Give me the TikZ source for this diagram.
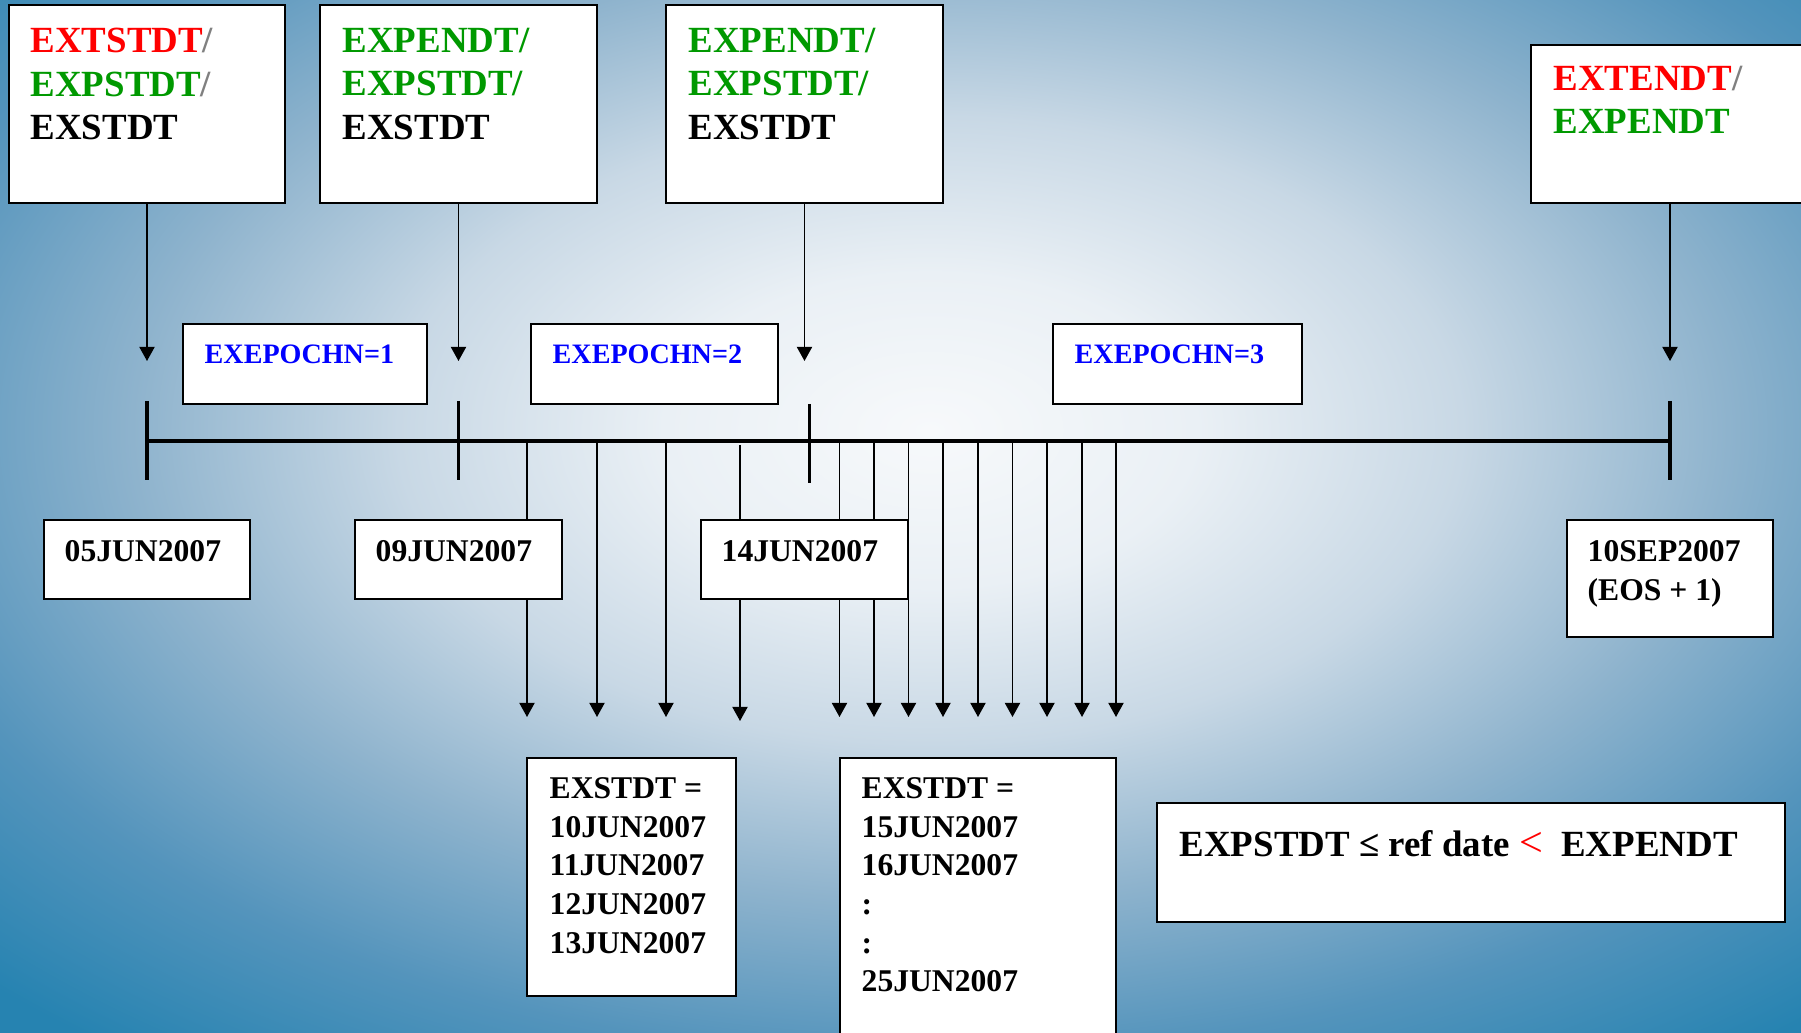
\documentclass[tikz,border=0pt]{standalone}
\usepackage{fontspec}
\setmainfont{Liberation Serif}
\usepackage{tikz}
\usetikzlibrary{arrows.meta}
\definecolor{figline}{RGB}{0,0,0}
\definecolor{txtred}{RGB}{255,0,0}
\definecolor{txtgreen}{RGB}{0,153,0}
\definecolor{txtblue}{RGB}{0,0,255}
\definecolor{txtslash}{RGB}{128,128,128}
\definecolor{bgmid}{RGB}{247,249,251}
\definecolor{bgpale}{RGB}{234,240,245}
\definecolor{bglight}{RGB}{200,216,229}
\definecolor{bgsoft}{RGB}{142,179,205}
\definecolor{bgdeep}{RGB}{84,148,188}
\definecolor{bgedge}{RGB}{38,131,177}
\pgfdeclareradialshading{bgglow}{\pgfpoint{0bp}{0bp}}{color(0bp)=(bgmid); color(5.6bp)=(bgpale); color(11.2bp)=(bglight); color(16.8bp)=(bgsoft); color(22.4bp)=(bgdeep); color(28bp)=(bgedge); color(50bp)=(bgedge)}
\tikzset{
  box/.style  ={draw=figline, fill=white, line width=0.6pt, inner sep=0pt},
  axis/.style ={draw=figline, line width=1.1pt},
  tk/.style   ={draw=figline, line width=1.1pt},
  ptr/.style  ={draw=figline, line width=0.45pt, -{Triangle[length=4pt,width=4.3pt]}},
  lab/.style  ={font=\fontsize{10.5}{12.5}\selectfont\bfseries, inner sep=0pt, align=left, anchor=north west},
  labd/.style ={font=\fontsize{9}{11}\selectfont\bfseries, inner sep=0pt, align=left, anchor=north west},
  labe/.style ={font=\fontsize{8}{10}\selectfont\bfseries, text=txtblue, inner sep=0pt, anchor=north west},
}

\begin{document}
\begin{tikzpicture}[x=0.1mm,y=-0.1mm]
  \useasboundingbox (0,0) rectangle (1801,1033);
  % background
  \begin{scope}
    \clip (0,0) rectangle (1801,1033);
    \shade[shading=bgglow] (-257.5,-270) rectangle (2117.5,1130);
  \end{scope}
  % time line and ticks
  \coordinate (tl0) at (147,441);
  \coordinate (tl1) at (1670,441);
  \draw[axis] (tl0) -- (tl1);
  \coordinate (k1a) at (147,401);   \coordinate (k1b) at (147,480);
  \coordinate (k2a) at (458.5,401); \coordinate (k2b) at (458.5,480);
  \coordinate (k3a) at (809.5,404); \coordinate (k3b) at (809.5,483);
  \coordinate (k4a) at (1670,401);  \coordinate (k4b) at (1670,480);
  \draw[tk] (k1a) -- (k1b);
  \draw[tk] (k2a) -- (k2b);
  \draw[tk] (k3a) -- (k3b);
  \draw[tk] (k4a) -- (k4b);
  % daily arrows
  \coordinate (a1) at (527,441);   \coordinate (a1e) at (527,717);
  \coordinate (a2) at (597,441);   \coordinate (a2e) at (597,717);
  \coordinate (a3) at (666,441);   \coordinate (a3e) at (666,717);
  \coordinate (a4) at (740,445);   \coordinate (a4e) at (740,721);
  \coordinate (a5) at (839.5,441); \coordinate (a5e) at (839.5,717);
  \coordinate (a6) at (874,441);   \coordinate (a6e) at (874,717);
  \coordinate (a7) at (908.5,441); \coordinate (a7e) at (908.5,717);
  \coordinate (a8) at (943,441);   \coordinate (a8e) at (943,717);
  \coordinate (a9) at (978,441);   \coordinate (a9e) at (978,717);
  \coordinate (a10) at (1012.5,441); \coordinate (a10e) at (1012.5,717);
  \coordinate (a11) at (1047,441); \coordinate (a11e) at (1047,717);
  \coordinate (a12) at (1082,441); \coordinate (a12e) at (1082,717);
  \coordinate (a13) at (1116,441); \coordinate (a13e) at (1116,717);
  \draw[ptr] (a1) -- (a1e);
  \draw[ptr] (a2) -- (a2e);
  \draw[ptr] (a3) -- (a3e);
  \draw[ptr] (a4) -- (a4e);
  \draw[ptr] (a5) -- (a5e);
  \draw[ptr] (a6) -- (a6e);
  \draw[ptr] (a7) -- (a7e);
  \draw[ptr] (a8) -- (a8e);
  \draw[ptr] (a9) -- (a9e);
  \draw[ptr] (a10) -- (a10e);
  \draw[ptr] (a11) -- (a11e);
  \draw[ptr] (a12) -- (a12e);
  \draw[ptr] (a13) -- (a13e);
  % date boxes
  \node[box, minimum width=20.6mm, minimum height=7.9mm] (d1) at (147,559.5) {};
  \node[box, minimum width=20.7mm, minimum height=7.9mm] (d2) at (458.5,559.5) {};
  \node[box, minimum width=20.7mm, minimum height=7.9mm] (d3) at (804.5,559.5) {};
  \node[box, minimum width=20.6mm, minimum height=11.7mm] (d4) at (1670,578.5) {};
  \node[labd] (d1t) at (64,540) {05JUN2007};
  \node[labd] (d2t) at (375,540) {09JUN2007};
  \node[labd] (d3t) at (721,540) {14JUN2007};
  \node[labd] (d4t) at (1587,540) {10SEP2007\\(EOS + 1)};
  % field boxes
  \node[box, minimum width=27.6mm, minimum height=19.8mm] (b1) at (147,104) {};
  \node[box, minimum width=27.7mm, minimum height=19.8mm] (b2) at (458.5,104) {};
  \node[box, minimum width=27.7mm, minimum height=19.8mm] (b3) at (804.5,104) {};
  \node[box, minimum width=27.8mm, minimum height=15.8mm] (b4) at (1670,124) {};
  \node[lab] (b1t) at (30,27) {{\color{txtred}EXTSTDT}{\color{txtslash}/}\\{\color{txtgreen}EXPSTDT}{\color{txtslash}/}\\EXSTDT};
  \node[lab] (b2t) at (342,27) {{\color{txtgreen}EXPENDT/}\\{\color{txtgreen}EXPSTDT/}\\EXSTDT};
  \node[lab] (b3t) at (688,27) {{\color{txtgreen}EXPENDT/}\\{\color{txtgreen}EXPSTDT/}\\EXSTDT};
  \node[lab] (b4t) at (1553,65) {{\color{txtred}EXTENDT}{\color{txtslash}/}\\{\color{txtgreen}EXPENDT}};
  \coordinate (t1) at (147,361);
  \coordinate (t2) at (458.5,361);
  \coordinate (t3) at (804.5,361);
  \coordinate (t4) at (1670,361);
  \draw[ptr] (b1) -- (t1);
  \draw[ptr] (b2) -- (t2);
  \draw[ptr] (b3) -- (t3);
  \draw[ptr] (b4) -- (t4);
  % epoch boxes
  \node[box, minimum width=24.4mm, minimum height=8.0mm] (e1) at (305,364) {};
  \node[box, minimum width=24.7mm, minimum height=8.0mm] (e2) at (654.5,364) {};
  \node[box, minimum width=24.9mm, minimum height=8.0mm] (e3) at (1177.5,364) {};
  \node[labe] (e1t) at (204,344) {EXEPOCHN=1};
  \node[labe] (e2t) at (552,344) {EXEPOCHN=2};
  \node[labe] (e3t) at (1074,344) {EXEPOCHN=3};
  % result boxes
  \node[box, minimum width=20.9mm, minimum height=23.8mm] (l1) at (631.5,877) {};
  \node[box, minimum width=27.6mm, minimum height=28.7mm] (l2) at (978,901.5) {};
  \node[labd] (l1t) at (549,777) {EXSTDT =\\10JUN2007\\11JUN2007\\12JUN2007\\13JUN2007};
  \node[labd] (l2t) at (861,777) {EXSTDT =\\15JUN2007\\16JUN2007\\:\\:\\25JUN2007};
  % rule box
  \node[box, minimum width=62.8mm, minimum height=11.9mm] (cnd) at (1471,862.5) {};
  \node[lab] (cndt) at (1179,830) {EXPSTDT ≤ ref date {\color{txtred}\mdseries\fontsize{12}{12.5}\selectfont<}\ \ EXPENDT};
\end{tikzpicture}
\end{document}
